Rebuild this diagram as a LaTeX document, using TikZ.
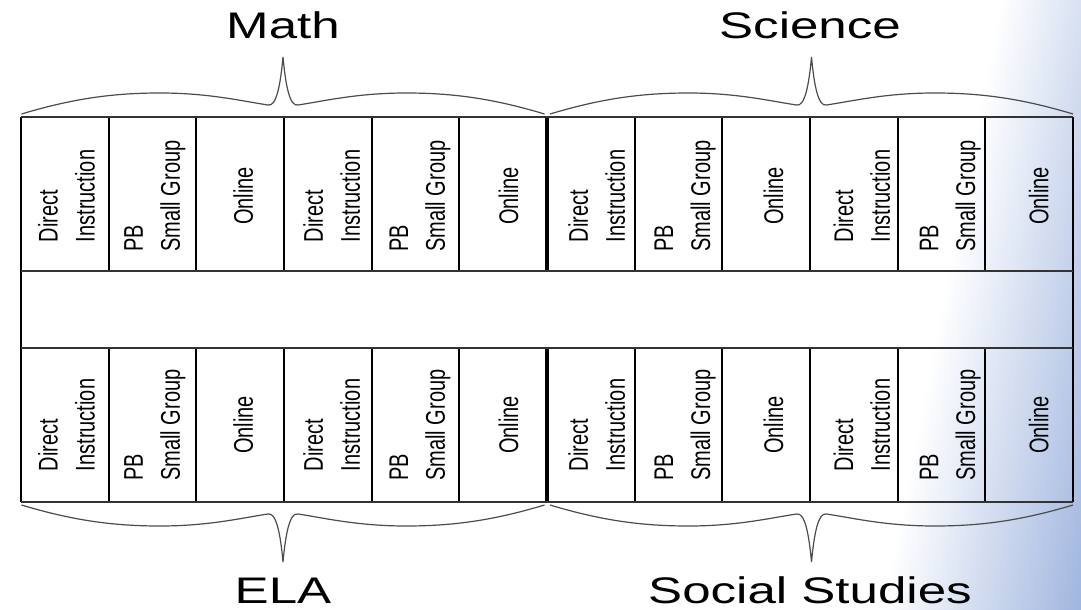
\documentclass[tikz,border=0pt]{standalone}
\usepackage{fontspec}
\setmainfont{Liberation Sans}
\definecolor{gradblue}{RGB}{158,180,222}
\newcommand\mycell[1]{\ifcase#1 Direct\\Instruction\or PB\\Small Group\or Online\fi}
\begin{document}
\begin{tikzpicture}[x=0.75pt,y=-0.75pt,
  titletext/.style={font=\fontsize{27.75}{30}\selectfont, xscale=1.38, inner sep=0pt, anchor=base},
  vtext/.style={font=\fontsize{15}{20.5}\selectfont, align=left, inner sep=0pt, xscale=1.35, rotate=90},
  gridline/.style={line width=1.6pt, black},
  hline/.style={line width=1.3pt, black!80},
  divider/.style={line width=3.6pt, black},
  bracepath/.style={line width=0.9pt, black!70},
  subjbrace/.pic={
    \draw[bracepath] (0,0) .. controls (50,-15) and (90,-21) .. (138.5,-21)
      .. controls (187,-21) and (220,-13) .. (246.5,-9)
      .. controls (255,-7) and (259,-30) .. (261.5,-57)
      .. controls (264,-30) and (268,-7) .. (276.5,-9)
      .. controls (303,-13) and (336,-21) .. (384.5,-21)
      .. controls (433,-21) and (473,-15) .. (523,0);
  }]
\useasboundingbox (0,0) rectangle (1081,610);
\fill[white] (0,0) rectangle (1081,610);
% background gradient
\begin{scope}
  \clip (0,0) rectangle (1081,610);
  \begin{scope}[transform canvas={rotate around={-11:(1000,0)}}]
    \shade[left color=white, right color=gradblue] (1000,-300) rectangle (1200,900);
  \end{scope}
\end{scope}
% table frame
\coordinate (TL) at (21,117);   \coordinate (TR) at (1073,117);
\coordinate (M1L) at (21,271);  \coordinate (M1R) at (1073,271);
\coordinate (M2L) at (21,348);  \coordinate (M2R) at (1073,348);
\coordinate (BL) at (21,502);   \coordinate (BR) at (1073,502);
\foreach \i in {0,...,12}{
  \pgfmathsetmacro\xx{21+87.67*\i}
  \coordinate (ta\i) at (\xx,117); \coordinate (tb\i) at (\xx,271);
  \coordinate (ba\i) at (\xx,348); \coordinate (bb\i) at (\xx,502);
  \draw[gridline] (ta\i) -- (tb\i);
  \draw[gridline] (ba\i) -- (bb\i);
}
\draw[divider] (ta6) -- (tb6);
\draw[divider] (ba6) -- (bb6);
\draw[gridline] (M1L) -- (M2L);
\draw[gridline] (M1R) -- (M2R);
\draw[hline] (TL) -- (TR);
\draw[hline] (M1L) -- (M1R);
\draw[hline] (M2L) -- (M2R);
\draw[hline] (BL) -- (BR);
% cell texts
\foreach \i in {1,...,12}{
  \pgfmathsetmacro\cx{21+87.67*(\i-0.5)+1+0.7*\i}
  \pgfmathtruncatemacro\k{mod(\i-1,3)}
  \node[vtext] (top\i) at (\cx,196) {\mycell{\k}};
  \node[vtext] (bot\i) at (\cx,425) {\mycell{\k}};
}
% braces
\pic at (21.5,114) {subjbrace};
\pic at (550,114) {subjbrace};
\pic[yscale=-1] at (21.5,505) {subjbrace};
\pic[yscale=-1] at (550,505) {subjbrace};
% titles
\node[titletext] (math) at (283,39) {Math};
\node[titletext] (science) at (810,39) {Science};
\node[titletext] (ela) at (283,603) {ELA};
\node[titletext] (social) at (810,603) {Social Studies};
\end{tikzpicture}
\end{document}
